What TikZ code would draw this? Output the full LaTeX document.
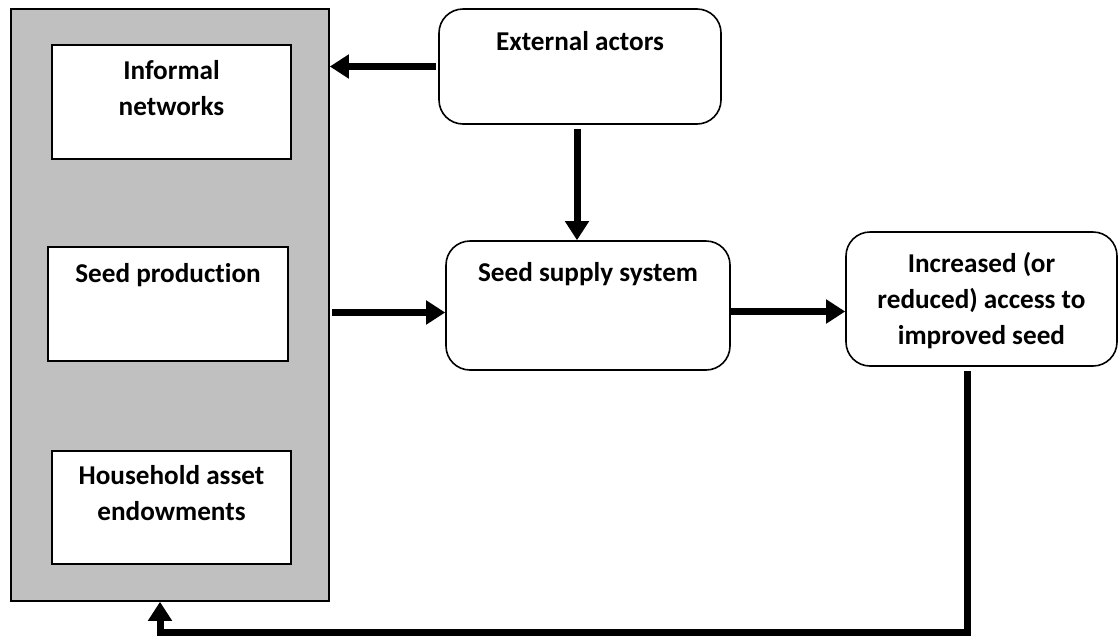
\documentclass[tikz,border=0pt]{standalone}
\usepackage{fontspec}
\setmainfont{Carlito}[Ligatures=NoCommon]
\usetikzlibrary{arrows.meta}
\definecolor{panelgray}{RGB}{192,192,192}
\begin{document}
\begin{tikzpicture}[x=0.5pt,y=-0.5pt,
    box/.style={draw,rectangle,fill=white,line width=0.8pt},
    roundbox/.style={draw,rectangle,rounded corners=12pt,fill=white,line width=0.8pt},
    boxtext/.style={anchor=north,align=center,inner sep=0pt,
        font=\fontsize{13.6}{18}\selectfont\bfseries},
    flow/.style={line width=3.5pt,-{Triangle[length=9.5pt,width=11.5pt]}}]
        \useasboundingbox (0,0) rectangle (1118,638);

        %draw grey panel with the three household boxes
        \node[draw,rectangle,fill=panelgray,line width=0.8pt,minimum width=159pt,minimum height=296pt] (panel) at (170,305) {};
        \node[box,minimum width=119.5pt,minimum height=57pt,
              label={[boxtext,yshift=-8pt]north:Informal\\networks}] (informal) at (171.5,102) {};
        \node[box,minimum width=120pt,minimum height=57pt,
              label={[boxtext,yshift=-8.5pt]north:Seed production}] (production) at (168,304) {};
        \node[box,minimum width=119.5pt,minimum height=56.5pt,
              label={[boxtext,yshift=-7.5pt]north:Household asset\\endowments}] (household) at (171.5,507.5) {};

        %draw rounded boxes
        \node[roundbox,minimum width=141pt,minimum height=57.5pt,
              label={[boxtext,yshift=-11.5pt]north:External actors}] (external) at (580,66.5) {};
        \node[roundbox,minimum width=142pt,minimum height=64.5pt,
              label={[boxtext,yshift=-11pt]north:Seed supply system}] (supply) at (588,305.5) {};
        \node[roundbox,minimum width=135.5pt,minimum height=67pt,
              label={[boxtext,yshift=-10.5pt]north:Increased (or\\reduced) access to\\improved seed}] (access) at (981.5,299) {};

        %draw arrows
        \draw[flow,shorten <=1pt] (external.west) -- (external.west -| panel.east);
        \draw[flow,shorten <=2pt] ([xshift=-1.5pt]external.south) -- ([xshift=-1.5pt]external.south |- supply.north);
        \draw[flow,shorten <=1pt] ([yshift=-3.5pt]supply.west -| panel.east) -- ([yshift=-3.5pt]supply.west);
        \draw[flow] ([yshift=-3pt]supply.east) -- ([yshift=-3pt]supply.east -| access.west);

        %feedback loop back to the panel
        \coordinate (loop) at (160,632);
        \draw[flow,shorten <=2pt] ([xshift=-7pt]access.south) |- (loop) -- (loop |- panel.south);
\end{tikzpicture}
\end{document}
